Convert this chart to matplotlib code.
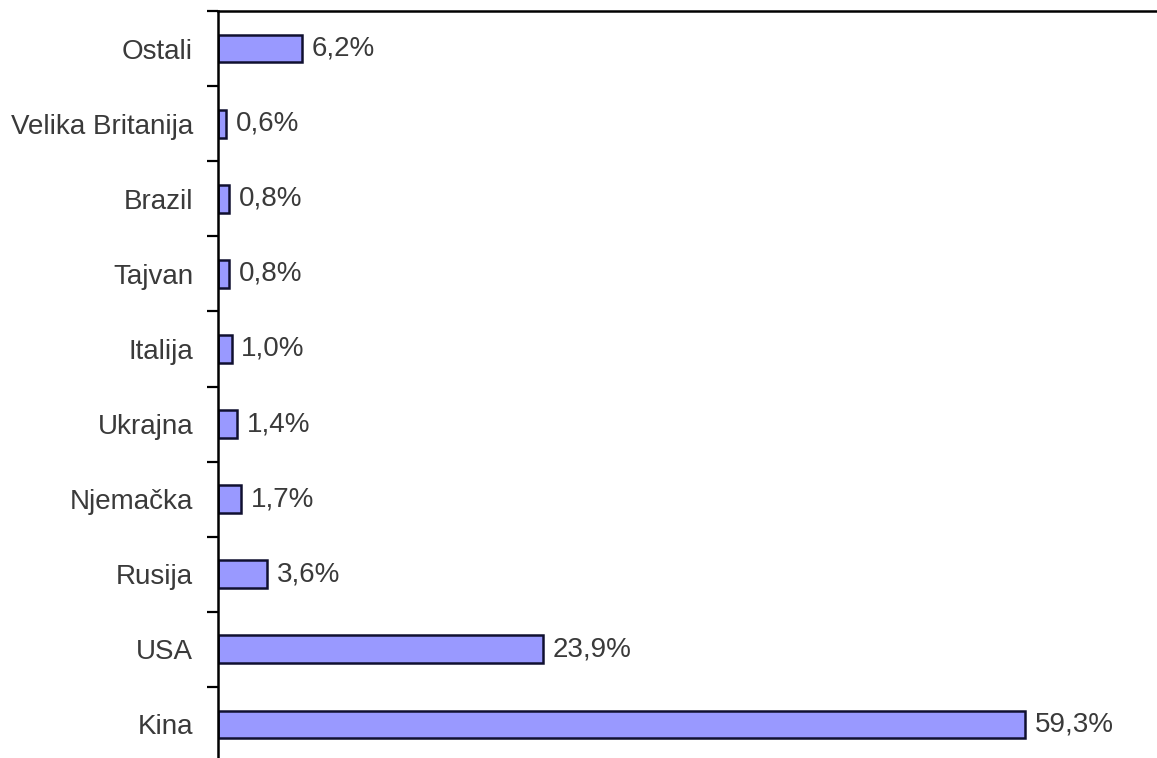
import matplotlib
matplotlib.use("Agg")
from matplotlib import pyplot as plt
from matplotlib.ticker import FixedLocator
import numpy as np

zemlje = ["Kina", "USA", "Rusija", "Njemačka", "Ukrajna", "Italija",
          "Tajvan", "Brazil", "Velika Britanija", "Ostali"]
udio = [59.3, 23.9, 3.6, 1.7, 1.4, 1.0, 0.8, 0.8, 0.6, 6.2]
oznake = ["59,3%", "23,9%", "3,6%", "1,7%", "1,4%", "1,0%",
          "0,8%", "0,8%", "0,6%", "6,2%"]

plt.rcParams['font.family'] = ['Liberation Sans', 'DejaVu Sans']
fig = plt.figure(figsize=(11.57, 7.58), dpi=100)
# axes: left spine at x=218px, top spine at y=11px, bottom a bit below the image
ax = fig.add_axes([218/1157, -4/758, (1157-218)/1157, 751/758])

y = np.arange(len(zemlje))
ax.barh(y, udio, height=0.37, color="#9999ff", edgecolor="#101030", linewidth=1.8)
for i in range(len(zemlje)):
    ax.text(udio[i] + 0.7, y[i], oznake[i], va="center", ha="left",
            fontsize=20, color="#3a3a3a")

ax.set_xlim(0, 69)
ax.set_ylim(-0.5, 9.5)
ax.set_yticks(y)
ax.set_yticklabels(zemlje, fontsize=20, color="#3a3a3a")
ax.yaxis.set_minor_locator(FixedLocator(np.arange(0.5, 10, 1.0)))
ax.tick_params(axis="y", which="major", length=0, pad=18)
ax.tick_params(axis="y", which="minor", length=8, width=1.6, direction="out")
ax.set_xticks([])
ax.spines["right"].set_visible(False)
ax.spines["bottom"].set_visible(False)
ax.spines["left"].set_linewidth(1.8)
ax.spines["top"].set_linewidth(1.8)

plt.savefig("out.png", dpi=100)
